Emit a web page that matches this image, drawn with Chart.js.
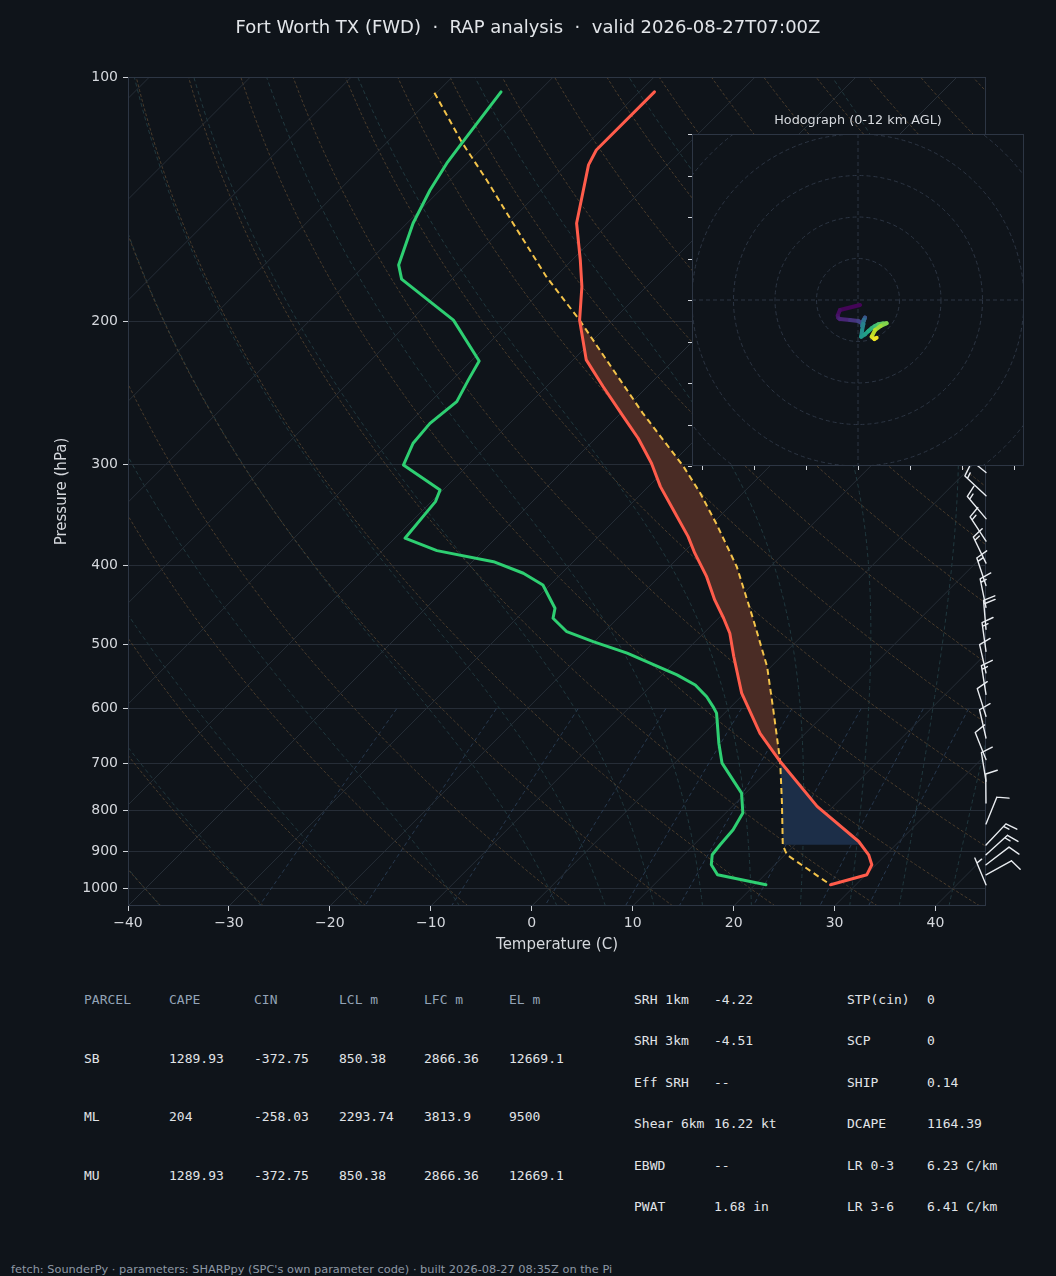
<!DOCTYPE html>
<html><head><meta charset="utf-8">
<script src="https://cdn.jsdelivr.net/npm/chart.js@4.4.1/dist/chart.umd.min.js"></script>
<style>
html,body{margin:0;padding:0;background:#0f141a;width:1056px;height:1276px;overflow:hidden;font-family:"DejaVu Sans",sans-serif;}
#wrap{position:relative;width:1056px;height:1276px;background:#0f141a;}
#skew{position:absolute;left:0;top:0;}
#hodo{position:absolute;left:686px;top:128px;z-index:2;}
#title{position:absolute;top:16px;left:0;width:1056px;text-align:center;color:#e2e5e9;font-size:18px;line-height:22px;white-space:pre;z-index:3;}
#htitle{position:absolute;left:728px;width:260px;top:112px;text-align:center;font-size:12.8px;line-height:16px;color:#d6d9de;z-index:3;}
.t{position:absolute;font-family:"DejaVu Sans Mono",monospace;font-size:13px;line-height:16px;white-space:pre;color:#e1e4e8;}
.h{color:#93a3b6;}
#footer{position:absolute;left:11px;top:1262px;font-size:11.35px;line-height:14px;color:#8e98a5;white-space:pre;}
</style></head>
<body>
<div id="wrap">
<canvas id="skew" width="1056" height="960"></canvas>
<canvas id="hodo" width="344" height="344"></canvas>
<div id="title">Fort Worth TX (FWD)  ·  RAP analysis  ·  valid 2026-08-27T07:00Z</div>
<div id="htitle">Hodograph (0-12 km AGL)</div>
<div id="tables"></div>
<div id="footer">fetch: SounderPy · parameters: SHARPpy (SPC's own parameter code) · built 2026-08-27 08:35Z on the Pi</div>
</div>
<script>
// ---------------- DATA ----------------
const P_TICKS = [100, 200, 300, 400, 500, 600, 700, 800, 900, 1000];
const T_TICKS = [-40, -30, -20, -10, 0, 10, 20, 30, 40];

// Temperature profile (hPa, degC)
const TEMP_P = [104.3, 123.0, 128.3, 151.4, 168.0, 181.2, 199.3, 223.1, 240.6, 262.1, 278.6, 299.1, 319.6, 341.5, 368.3, 386.0, 412.6, 440.7, 464.2, 484.4, 517.5, 574.0, 643.3, 697.0, 791.5, 874.4, 908.0, 934.0, 960.8, 988.7];
const TEMP_T = [-68.5, -68.5, -67.8, -63.2, -59.2, -56.4, -53.3, -48.7, -44.4, -39.4, -35.8, -32.0, -28.8, -25.2, -21.1, -18.8, -15.3, -12.2, -9.5, -7.4, -4.7, -0.3, 5.5, 10.3, 18.4, 26.0, 28.3, 29.6, 30.1, 27.5];

// Dewpoint profile
const DEW_P = [104.3, 120.7, 127.7, 137.8, 151.4, 170.4, 177.4, 199.3, 223.8, 236.1, 251.1, 267.1, 282.6, 300.6, 322.6, 333.5, 369.9, 383.2, 395.4, 408.6, 422.4, 451.2, 464.2, 482.3, 496.1, 512.5, 545.2, 560.9, 580.0, 596.4, 607.6, 661.6, 700.2, 762.3, 806.6, 846.0, 882.6, 908.0, 934.0, 960.8, 988.7];
const DEW_T = [-83.7, -82.5, -82.0, -81.0, -79.4, -76.7, -75.0, -65.8, -59.2, -58.4, -57.4, -57.9, -57.6, -56.4, -50.3, -49.6, -49.0, -44.6, -37.9, -33.8, -30.7, -27.2, -26.4, -23.7, -20.1, -15.6, -8.5, -5.7, -3.4, -1.8, -0.8, 2.4, 4.7, 9.6, 11.7, 12.4, 12.6, 12.8, 13.7, 15.3, 21.1];

// Surface-based parcel path
const PARCEL_P = [104.6, 120.1, 133.9, 151.4, 176.2, 199.3, 223.1, 259.6, 286.6, 301.9, 325.6, 356.3, 401.1, 464.2, 532.5, 602.0, 697.0, 784.4, 882.6, 908.0, 988.7];
const PARCEL_T = [-90.2, -82.7, -76.4, -69.5, -60.9, -53.3, -46.7, -37.8, -31.7, -28.5, -24.2, -19.4, -13.3, -6.6, -0.4, 4.5, 10.3, 14.6, 18.8, 20.2, 27.5];
const LFC_P = 697.0, EL_P = 199.3, LCL_P = 882.6;

// Winds (kt) by level
const WIND_P = [988.7, 961, 934, 908, 883, 832, 784, 737, 693, 652, 613, 576, 542, 510, 479, 450, 423, 397, 373, 350, 328, 307, 288, 269, 251, 235, 219, 204, 190, 177, 164, 142];
const WIND_Z = [0, 0.25, 0.5, 0.75, 1.0, 1.5, 2, 2.5, 3, 3.5, 4, 4.5, 5, 5.5, 6, 6.5, 7, 7.5, 8, 8.5, 9, 9.5, 10, 10.5, 11, 11.5, 12, 12.5, 13, 13.5, 14, 15];
const WIND_U = [1.0, -8.7, -9.8, -9.5, -8.7, -3.9, 0.1, 1.8, 3.4, 2.4, 3.0, 2.0, 2.6, 2.0, 1.5, 3.4, 5.0, 6.6, 8.2, 9.8, 12.0, 13.8, 11.0, 8.2, 6.6, 7.9, 9.0, 12, 15, 14, 10, 6];
const WIND_V = [-2.4, -4.8, -7.5, -8.6, -9.2, -9.6, -10.1, -11.2, -8.5, -10.5, -9.5, -12.5, -11.5, -14.5, -17.7, -16.5, -15.0, -13.6, -12.5, -11.7, -11.3, -11.2, -12.5, -14.5, -17.7, -18.8, -18.2, -20, -22, -20, -16, -10];

// Table content
const PARCEL_HDR = ['PARCEL', 'CAPE', 'CIN', 'LCL m', 'LFC m', 'EL m'];
const PARCEL_ROWS = [
  ['SB', '1289.93', '-372.75', '850.38', '2866.36', '12669.1'],
  ['ML', '204', '-258.03', '2293.74', '3813.9', '9500'],
  ['MU', '1289.93', '-372.75', '850.38', '2866.36', '12669.1']
];
const PARAM_ROWS = [
  ['SRH 1km', '-4.22', 'STP(cin)', '0'],
  ['SRH 3km', '-4.51', 'SCP', '0'],
  ['Eff SRH', '--', 'SHIP', '0.14'],
  ['Shear 6km', '16.22 kt', 'DCAPE', '1164.39'],
  ['EBWD', '--', 'LR 0-3', '6.23 C/km'],
  ['PWAT', '1.68 in', 'LR 3-6', '6.41 C/km']
];

// ---------------- GEOMETRY / HELPERS ----------------
const PMIN = 100, PMAX = 1050, TMIN = -40, TMAX = 45;
const AREA_W = 858, AREA_H = 829;
const SKEW = (AREA_H / AREA_W) * (TMAX - TMIN) / Math.log10(PMAX / PMIN);
function sx(T, p) { return T + SKEW * Math.log10(PMAX / p); }
function prof(P, T) { return P.map((p, i) => ({ x: sx(T[i], p), y: p })); }
function interpT(P, T, p) {
  for (let i = 0; i < P.length - 1; i++) {
    const a = P[i], b = P[i + 1];
    if ((p >= a && p <= b) || (p <= a && p >= b)) {
      const f = Math.log(p / a) / Math.log(b / a);
      return T[i] + f * (T[i + 1] - T[i]);
    }
  }
  return T[T.length - 1];
}

// background reference lines
const bg = [];
const C_ISO = '#262e37', C_DRY = '#4a3c2c', C_MOIST = '#21393f', C_MIX = '#283a50';
for (let T = -130; T <= 40; T += 10) {
  bg.push({ data: [{ x: sx(T, PMAX), y: PMAX }, { x: sx(T, PMIN), y: PMIN }], borderColor: C_ISO, borderWidth: 1 });
}
function logPs(p0, p1, n) { const a = []; for (let i = 0; i <= n; i++) a.push(p0 * Math.pow(p1 / p0, i / n)); return a; }
const PS = logPs(PMAX, PMIN, 120);
for (let t0 = -40; t0 <= 250; t0 += 10) {
  bg.push({ data: PS.map(p => ({ x: sx((t0 + 273.15) * Math.pow(p / 1000, 0.28571) - 273.15, p), y: p })), borderColor: C_DRY, borderWidth: 1, borderDash: [3, 2] });
}
function moistLine(t0C) {
  const Rd = 287.04749, Cp = 1004.6662, Lv = 2.50084e6, eps = 0.6219569;
  const es = Tk => { const tc = Tk - 273.15; return 6.112 * Math.exp(17.67 * tc / (tc + 243.5)); };
  const f = (p, T) => { const e = es(T); const rs = eps * e / (p - e); return (Rd * T + Lv * rs) / (Cp + Lv * Lv * rs * eps / (Rd * T * T)) / p; };
  function run(pEnd, step) {
    let p = 1000, T = t0C + 273.15; const out = [{ p, T }];
    while ((step < 0 && p > pEnd + 1e-6) || (step > 0 && p < pEnd - 1e-6)) {
      let h = step;
      if (step < 0 && p + h < pEnd) h = pEnd - p;
      if (step > 0 && p + h > pEnd) h = pEnd - p;
      const k1 = f(p, T), k2 = f(p + h / 2, T + h / 2 * k1), k3 = f(p + h / 2, T + h / 2 * k2), k4 = f(p + h, T + h * k3);
      T += h / 6 * (k1 + 2 * k2 + 2 * k3 + k4); p += h; out.push({ p, T });
    }
    return out;
  }
  const up = run(PMIN, -5), down = run(PMAX, 5);
  return down.reverse().concat(up.slice(1)).map(o => ({ x: sx(o.T - 273.15, o.p), y: o.p }));
}
[-40, -30, -20, -10, 0, 5, 10, 15, 20, 25, 30, 35, 40, 45].forEach(t0 => {
  bg.push({ data: moistLine(t0), borderColor: C_MOIST, borderWidth: 1, borderDash: [4, 3] });
});
const PMIX = logPs(600, PMAX, 40);
[0.0004, 0.001, 0.002, 0.004, 0.007, 0.01, 0.016, 0.024, 0.032].forEach(w => {
  bg.push({ data: PMIX.map(p => { const e = w * p / (0.622 + w); const l = Math.log(e / 6.112); return { x: sx(243.5 * l / (17.67 - l), p), y: p }; }), borderColor: C_MIX, borderWidth: 1, borderDash: [4, 3] });
});
bg.forEach(d => { d.showLine = true; d.pointRadius = 0; d.order = 100; d.fill = false; });

// CAPE / CIN polygons built from the profiles
const parTop = PARCEL_P.map((p, i) => ({ p, t: PARCEL_T[i] }));
const capePoly = parTop.filter(o => o.p >= EL_P && o.p <= LFC_P).map(o => ({ x: sx(o.t, o.p), y: o.p }))
  .concat(TEMP_P.map((p, i) => ({ p, t: TEMP_T[i] })).filter(o => o.p >= EL_P && o.p <= LFC_P).reverse().map(o => ({ x: sx(o.t, o.p), y: o.p })));
const cinPoly = parTop.filter(o => o.p >= LFC_P && o.p <= LCL_P).map(o => ({ x: sx(o.t, o.p), y: o.p }))
  .concat([{ x: sx(interpT(TEMP_P, TEMP_T, LCL_P), LCL_P), y: LCL_P }])
  .concat(TEMP_P.map((p, i) => ({ p, t: TEMP_T[i] })).filter(o => o.p >= LFC_P && o.p < LCL_P).reverse().map(o => ({ x: sx(o.t, o.p), y: o.p })));

const datasets = bg.concat([
  { data: capePoly, showLine: true, fill: 'shape', backgroundColor: '#4a2c25', borderWidth: 0, pointRadius: 0, order: 50 },
  { data: cinPoly, showLine: true, fill: 'shape', backgroundColor: '#1c2e48', borderWidth: 0, pointRadius: 0, order: 50 },
  { data: prof(PARCEL_P, PARCEL_T), showLine: true, borderColor: '#f3c34a', borderWidth: 2, borderDash: [6, 4], pointRadius: 0, order: 3 },
  { data: prof(DEW_P, DEW_T), showLine: true, borderColor: '#2ecf72', borderWidth: 3, pointRadius: 0, order: 2, borderJoinStyle: 'round', borderCapStyle: 'round' },
  { data: prof(TEMP_P, TEMP_T), showLine: true, borderColor: '#ff5c4b', borderWidth: 3, pointRadius: 0, order: 1, borderJoinStyle: 'round', borderCapStyle: 'round' }
]);

// ---------------- BARBS ----------------
function drawBarb(ctx, x, y, u, v) {
  const L = 29, H = 0.4 * L, W2 = 0.125 * L, SP = 0.125 * L;
  const spd = Math.hypot(u, v);
  let mag = Math.round(spd / 5) * 5;
  if (mag < 5) { ctx.beginPath(); ctx.arc(x, y, 0.15 * L, 0, 2 * Math.PI); ctx.stroke(); return; }
  const ux = -u / spd, uy = v / spd;
  const nx = -uy, ny = ux;
  const P = (d, o) => [x + ux * d + nx * o, y + uy * d + ny * o];
  const flags = Math.floor(mag / 50); mag -= flags * 50;
  const full = Math.floor(mag / 10); mag -= full * 10;
  const half = mag >= 5;
  ctx.beginPath();
  ctx.moveTo(x, y); let e = P(L, 0); ctx.lineTo(e[0], e[1]);
  let d = L, first = true;
  for (let k = 0; k < flags; k++) {
    const a = P(d, 0), b = P(d - W2, H), c = P(d - 2 * W2, 0);
    ctx.moveTo(a[0], a[1]); ctx.lineTo(b[0], b[1]); ctx.lineTo(c[0], c[1]);
    d -= 2 * W2 + SP; first = false;
  }
  for (let k = 0; k < full; k++) {
    const a = P(d, 0), b = P(d + W2, H);
    ctx.moveTo(a[0], a[1]); ctx.lineTo(b[0], b[1]);
    d -= SP; first = false;
  }
  if (half) {
    if (first) d -= 1.5 * SP;
    const a = P(d, 0), b = P(d + W2 / 2, H / 2);
    ctx.moveTo(a[0], a[1]); ctx.lineTo(b[0], b[1]);
  }
  ctx.stroke();
}
const skewPlugin = {
  id: 'skewExtras',
  afterDatasetsDraw(chart) {
    const { ctx, chartArea: a } = chart;
    ctx.save(); ctx.strokeStyle = '#2d3644'; ctx.lineWidth = 1;
    ctx.strokeRect(a.left + 0.5, a.top + 0.5, a.right - a.left - 1, a.bottom - a.top - 1);
    ctx.restore();
  },
  afterDraw(chart) {
    const ctx = chart.ctx, ys = chart.scales.y, x0 = chart.chartArea.right;
    ctx.save(); ctx.strokeStyle = '#e9ecf0'; ctx.lineWidth = 1.4; ctx.lineCap = 'round'; ctx.lineJoin = 'round';
    WIND_P.forEach((p, i) => { if (p < PMIN || p > PMAX) return; drawBarb(ctx, x0, ys.getPixelForValue(p), WIND_U[i], WIND_V[i]); });
    ctx.restore();
  }
};

Chart.defaults.font.family = "'DejaVu Sans', sans-serif";
Chart.defaults.color = '#d5d8dd';
const minus = v => v < 0 ? '\u2212' + Math.abs(v) : String(v);

new Chart(document.getElementById('skew'), {
  type: 'scatter',
  data: { datasets },
  options: {
    responsive: false, animation: false, events: [],
    layout: { padding: { left: 53, right: 70, top: 77, bottom: 4 } },
    elements: { point: { radius: 0 }, line: { tension: 0 } },
    plugins: { legend: { display: false }, tooltip: { enabled: false } },
    scales: {
      x: {
        type: 'linear', min: TMIN, max: TMAX,
        afterBuildTicks: s => { s.ticks = T_TICKS.map(v => ({ value: v })); },
        afterFit: s => { s.height = 50; },
        ticks: { callback: v => minus(v), color: '#d5d8dd', font: { size: 14 }, padding: 4, maxRotation: 0, autoSkip: false },
        grid: { drawOnChartArea: false, drawTicks: true, tickLength: 5, tickColor: '#cfd3d9', tickWidth: 1 },
        border: { display: false },
        title: { display: true, text: 'Temperature (C)', color: '#d5d8dd', font: { size: 15 }, padding: { top: 0, bottom: 2 } }
      },
      y: {
        type: 'logarithmic', min: PMIN, max: PMAX, reverse: true,
        afterBuildTicks: s => { s.ticks = P_TICKS.map(v => ({ value: v })); },
        afterFit: s => { s.width = 75; },
        ticks: { callback: v => String(v), color: '#d5d8dd', font: { size: 14 }, padding: 5, autoSkip: false },
        grid: { color: '#262d37', lineWidth: 1, drawTicks: true, tickLength: 5, tickColor: '#cfd3d9' },
        border: { display: false },
        title: { display: true, text: 'Pressure (hPa)', color: '#d5d8dd', font: { size: 15 }, padding: 0 }
      }
    }
  },
  plugins: [skewPlugin]
});

// ---------------- HODOGRAPH ----------------
const VIR = ['#440154', '#482475', '#414487', '#355f8d', '#2a788e', '#21918c', '#22a884', '#44bf70', '#7ad151', '#bddf26', '#fde725'];
function viridis(t) {
  t = Math.max(0, Math.min(1, t));
  const f = t * (VIR.length - 1), i = Math.min(VIR.length - 2, Math.floor(f)), r = f - i;
  const h = s => [parseInt(s.slice(1, 3), 16), parseInt(s.slice(3, 5), 16), parseInt(s.slice(5, 7), 16)];
  const a = h(VIR[i]), b = h(VIR[i + 1]);
  return 'rgb(' + a.map((c, k) => Math.round(c + (b[k] - c) * r)).join(',') + ')';
}
const HODO_TOP = 12;
const hIdx = WIND_Z.map((z, i) => i).filter(i => WIND_Z[i] <= HODO_TOP);
const hodoPts = hIdx.map(i => ({ x: WIND_U[i], y: WIND_V[i] }));
const hodoZ = hIdx.map(i => WIND_Z[i]);
const HX_TICKS = [-75, -50, -25, 0, 25, 50, 75];
const HY_TICKS = [-80, -60, -40, -20, 0, 20, 40, 60, 80];
const RINGS = [20, 40, 60, 80, 100];
const hodoPlugin = {
  id: 'hodoGrid',
  beforeDatasetsDraw(chart) {
    const { ctx, chartArea: a, scales: { x, y } } = chart;
    ctx.save();
    ctx.fillStyle = '#0f141a'; ctx.fillRect(a.left, a.top, a.right - a.left, a.bottom - a.top);
    ctx.beginPath(); ctx.rect(a.left, a.top, a.right - a.left, a.bottom - a.top); ctx.clip();
    ctx.strokeStyle = '#2c3543'; ctx.lineWidth = 1; ctx.setLineDash([4, 3]);
    const cx = x.getPixelForValue(0), cy = y.getPixelForValue(0);
    RINGS.forEach(r => { const rp = x.getPixelForValue(r) - cx; ctx.beginPath(); ctx.arc(cx, cy, rp, 0, 2 * Math.PI); ctx.stroke(); });
    ctx.beginPath(); ctx.moveTo(cx, a.top); ctx.lineTo(cx, a.bottom); ctx.moveTo(a.left, cy); ctx.lineTo(a.right, cy); ctx.stroke();
    ctx.restore();
  },
  afterDraw(chart) {
    const { ctx, chartArea: a, scales: { x, y } } = chart;
    ctx.save();
    ctx.strokeStyle = '#2d3644'; ctx.lineWidth = 1;
    ctx.strokeRect(a.left + 0.5, a.top + 0.5, a.right - a.left - 1, a.bottom - a.top - 1);
    ctx.strokeStyle = '#cfd3d9'; ctx.beginPath();
    HX_TICKS.forEach(v => { const px = Math.round(x.getPixelForValue(v)) + 0.5; ctx.moveTo(px, a.bottom); ctx.lineTo(px, a.bottom + 4); });
    HY_TICKS.forEach(v => { const py = Math.round(y.getPixelForValue(v)) + 0.5; ctx.moveTo(a.left - 4, py); ctx.lineTo(a.left, py); });
    ctx.stroke();
    ctx.restore();
  }
};
new Chart(document.getElementById('hodo'), {
  type: 'scatter',
  data: { datasets: [{
    data: hodoPts, showLine: true, borderWidth: 4, pointRadius: 0, borderCapStyle: 'round', borderJoinStyle: 'round',
    segment: { borderColor: c => viridis(((hodoZ[c.p0DataIndex] + hodoZ[c.p1DataIndex]) / 2) / HODO_TOP) }
  }] },
  options: {
    responsive: false, animation: false, events: [],
    layout: { padding: 6 },
    plugins: { legend: { display: false }, tooltip: { enabled: false } },
    scales: { x: { display: false, min: -80, max: 80 }, y: { display: false, min: -80, max: 80 } }
  },
  plugins: [hodoPlugin]
});

// ---------------- TABLES ----------------
const tb = document.getElementById('tables');
function put(txt, x, yc, cls) { const s = document.createElement('div'); s.className = 't' + (cls ? ' ' + cls : ''); s.textContent = txt; s.style.left = x + 'px'; s.style.top = (yc - 8) + 'px'; tb.appendChild(s); }
PARCEL_HDR.forEach((h, i) => put(h, 84 + 85 * i, 1000, 'h'));
PARCEL_ROWS.forEach((r, j) => r.forEach((c, i) => put(c, 84 + 85 * i, 1058.5 + 58.7 * j)));
const PX = [634, 714, 847, 927];
PARAM_ROWS.forEach((r, j) => r.forEach((c, i) => put(c, PX[i], 1000 + 41.4 * j)));
</script>
</body></html>
